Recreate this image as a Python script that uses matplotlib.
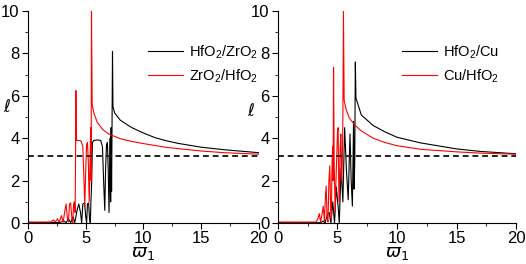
import matplotlib
matplotlib.use("Agg")
import matplotlib.pyplot as plt
import numpy as np
from matplotlib.ticker import MultipleLocator

plt.rcParams['font.family'] = ['Liberation Sans', 'DejaVu Sans']

# traced curves, left panel
hz_x = [0, 2.8, 3.1, 3.3, 3.5, 3.7, 3.9, 4.05, 4.25, 4.4, 4.55, 4.65, 4.75, 4.9, 5.0, 5.08,
        5.15, 5.25, 5.33, 5.4, 5.45, 5.52, 5.58, 5.7, 6.0, 6.3, 6.45, 6.55, 6.65, 6.72,
        6.8, 6.88, 6.95, 7.02, 7.08, 7.12, 7.16, 7.2, 7.24, 7.28, 7.32, 7.36, 7.5, 8, 9,
        10, 11, 12, 13, 15, 17, 20]
hz_y = [0.02, 0.03, 0.1, 0.02, 0.2, 0.02, 0.3, 0.02, 0.6, 0.9, 0.5, 0.0, 0.9, 0.95, 0.3, 0.0,
        0.9, 0.95, 0.2, 0.0, 1.0, 2.0, 3.8, 3.9, 3.92, 3.9, 3.6, 2.0, 0.6, 2.5,
        3.7, 3.8, 2.5, 0.5, 2.6, 4.0, 1.0, 4.5, 1.5, 4.6, 8.1, 5.5, 5.2, 4.85, 4.5,
        4.25, 4.03, 3.88, 3.76, 3.58, 3.46, 3.32]

zh_x = [0, 2.0, 2.2, 2.35, 2.55, 2.7, 2.9, 3.05, 3.2, 3.3, 3.4, 3.5, 3.6, 3.7, 3.8, 3.88,
        3.95, 4.02, 4.08, 4.12, 4.15, 4.18, 4.3, 4.6, 4.75, 4.85, 4.92, 5.0, 5.08, 5.15,
        5.22, 5.3, 5.38, 5.43, 5.47, 5.5, 5.56, 5.7, 6, 6.5, 7, 8, 9, 10, 12, 15, 17, 20]
zh_y = [0.05, 0.05, 0.15, 0.05, 0.2, 0.05, 0.35, 0.05, 0.6, 0.9, 0.3, 0.05, 0.9, 0.95, 0.2, 0.02,
        0.9, 1.0, 0.5, 3.0, 6.25, 3.9, 3.9, 3.88, 3.6, 2.0, 0.8, 2.5, 3.7, 3.8,
        3.0, 1.0, 3.0, 4.5, 2.0, 10.0, 5.6, 5.2, 4.75, 4.4, 4.2, 3.98, 3.85, 3.75, 3.57, 3.4, 3.32, 3.25]

# traced curves, right panel
hc_x = [0, 3.6, 3.8, 3.95, 4.15, 4.3, 4.45, 4.6, 4.75, 4.9, 5.05, 5.15, 5.3, 5.45, 5.6,
        5.75, 5.9, 6.05, 6.15, 6.25, 6.35, 6.4, 6.45, 6.5, 6.55, 7, 8, 9, 10, 12, 15, 17, 20]
hc_y = [0.02, 0.02, 0.1, 0.0, 0.4, 0.5, 0.0, 1.0, 0.0, 1.7, 0.8, 0.0, 2.6, 1.0, 4.5,
        2.5, 1.1, 4.2, 2.0, 0.8, 4.8, 1.6, 3.0, 7.6, 5.9, 5.1, 4.6, 4.3, 4.05, 3.78, 3.5, 3.38, 3.27]

ch_x = [0, 3.2, 3.35, 3.47, 3.58, 3.72, 3.8, 3.9, 3.98, 4.05, 4.12, 4.2, 4.28, 4.35, 4.42,
        4.48, 4.55, 4.6, 4.63, 4.67, 4.72, 4.8, 4.9, 5.0, 5.05, 5.1, 5.15, 5.22, 5.28,
        5.35, 5.4, 5.45, 5.5, 5.56, 5.7, 6, 6.5, 7, 8, 9, 10, 12, 15, 17, 20]
ch_y = [0.05, 0.05, 0.2, 0.45, 0.05, 0.5, 0.8, 0.1, 1.2, 1.75, 0.3, 0.05, 2.0, 2.7, 0.8,
        0.2, 3.0, 3.6, 2.0, 7.35, 3.0, 0.5, 2.5, 4.3, 4.5, 2.0, 1.0, 3.5, 4.2,
        2.0, 2.8, 4.8, 10.0, 5.8, 5.4, 4.95, 4.6, 4.35, 4.0, 3.8, 3.65, 3.48, 3.36, 3.3, 3.25]

ref_level = 3.17

panels = [
    (hz_x, hz_y, 'HfO$_\\mathregular{2}$/ZrO$_\\mathregular{2}$',
     zh_x, zh_y, 'ZrO$_\\mathregular{2}$/HfO$_\\mathregular{2}$'),
    (hc_x, hc_y, 'HfO$_\\mathregular{2}$/Cu',
     ch_x, ch_y, 'Cu/HfO$_\\mathregular{2}$'),
]

fig = plt.figure(figsize=(5.26, 2.64), dpi=100)
rects = [[0.0532, 0.155, 0.439, 0.803], [0.5285, 0.155, 0.4525, 0.803]]
label_pos = [(-0.092, 0.55), (-0.115, 0.53)]

for i, (bx, by, bl, rx, ry, rl) in enumerate(panels):
    ax = fig.add_axes(rects[i])
    ax.plot(bx, by, color='black', lw=0.8, label=bl)
    ax.plot(rx, ry, color='red', lw=0.8, label=rl)
    ax.axhline(ref_level, color='#222222', lw=1.4, ls=(0, (3, 2)))
    ax.set_xlim(0, 20)
    ax.set_ylim(0, 10)
    ax.spines['top'].set_visible(False)
    ax.spines['right'].set_visible(False)
    ax.xaxis.set_major_locator(MultipleLocator(5))
    ax.xaxis.set_minor_locator(MultipleLocator(2.5))
    ax.yaxis.set_major_locator(MultipleLocator(2))
    ax.yaxis.set_minor_locator(MultipleLocator(1))
    ax.tick_params(which='major', direction='out', length=4, labelsize=12, pad=2)
    ax.tick_params(which='minor', direction='out', length=2)
    ax.set_xlabel(r'$\varpi_1$', fontsize=13)
    ax.xaxis.set_label_coords(0.5, -0.105)
    ax.set_ylabel(r'$\ell$', fontsize=12, rotation=0, va='center')
    ax.yaxis.set_label_coords(*label_pos[i])
    ax.legend(loc='upper left', bbox_to_anchor=(0.52, 0.85), frameon=False,
              fontsize=10.5, handlelength=2.4, handletextpad=0.4,
              borderpad=0, borderaxespad=0, labelspacing=0.45)

fig.savefig('out.png', dpi=100)
